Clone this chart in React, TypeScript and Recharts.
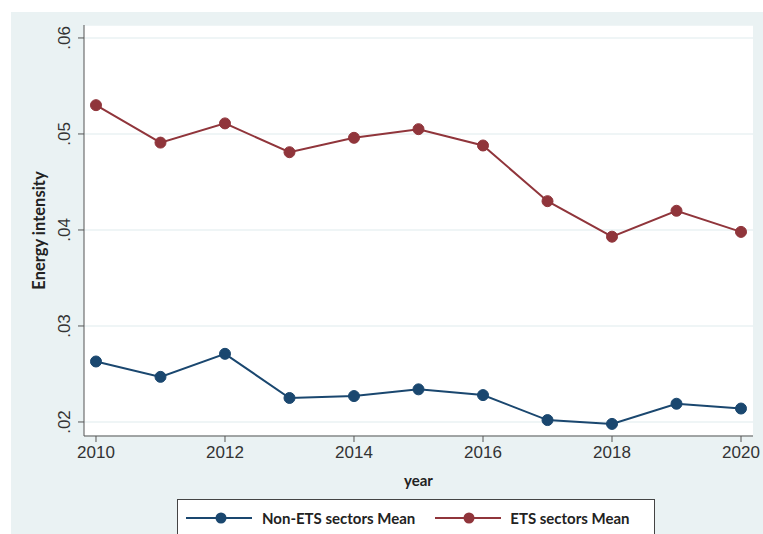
import { CartesianGrid, Line, LineChart, XAxis, YAxis } from 'recharts';

const years = [2010, 2011, 2012, 2013, 2014, 2015, 2016, 2017, 2018, 2019, 2020];
const nonEtsMean = [0.0263, 0.0247, 0.0271, 0.0225, 0.0227, 0.0234, 0.0228, 0.0202, 0.0198, 0.0219, 0.0214];
const etsMean = [0.053, 0.0491, 0.0511, 0.0481, 0.0496, 0.0505, 0.0488, 0.043, 0.0393, 0.042, 0.0398];
const yTicks = [0.02, 0.03, 0.04, 0.05, 0.06];
const xTicks = [2010, 2012, 2014, 2016, 2018, 2020];
const seriesNames = ['Non-ETS sectors Mean', 'ETS sectors Mean'];

const data = years.map((year, i) => ({ year, nonEts: nonEtsMean[i], ets: etsMean[i] }));

const NAVY = '#1a476f';
const MAROON = '#90353b';
const BG = '#eaf2f3';
const AXIS = '#555';

const fmtY = (v: number) => v.toFixed(2).replace(/^0/, '');

const YTick = (props: any) => {
  const { x, y, payload } = props;
  return (
    <text
      x={x - 6}
      y={y}
      transform={`rotate(-90, ${x - 6}, ${y})`}
      textAnchor="middle"
      fill="#333"
      fontSize={17}
      fontFamily="Liberation Sans, Arial, sans-serif"
    >
      {fmtY(payload.value)}
    </text>
  );
};

const LegendBox = () => (
  <div
    style={{
      position: 'absolute',
      left: 177,
      top: 499,
      width: 478,
      height: 40,
      border: '1px solid #444',
      background: '#fff',
      display: 'flex',
      alignItems: 'center',
      boxSizing: 'border-box',
      fontFamily: 'Lato, sans-serif',
      fontWeight: 700,
      fontSize: 15,
      color: '#222',
      paddingBottom: 2,
    }}
  >
    <svg width={66} height={14} style={{ marginLeft: 8 }}>
      <line x1={0} y1={7} x2={66} y2={7} stroke={NAVY} strokeWidth={2} />
      <circle cx={35} cy={7} r={5.5} fill={NAVY} />
    </svg>
    <span style={{ marginLeft: 10 }}>{seriesNames[0]}</span>
    <svg width={66} height={14} style={{ marginLeft: 20 }}>
      <line x1={0} y1={7} x2={66} y2={7} stroke={MAROON} strokeWidth={2} />
      <circle cx={34} cy={7} r={5.5} fill={MAROON} />
    </svg>
    <span style={{ marginLeft: 9 }}>{seriesNames[1]}</span>
  </div>
);

export default function App() {
  return (
    <div style={{ position: 'absolute', left: 0, top: 0, width: 763, height: 534, background: '#fff', overflow: 'hidden' }}>
      <div style={{ position: 'absolute', left: 11, top: 12, width: 752, height: 522, background: BG }} />
      <LineChart
        width={763}
        height={534}
        data={data}
        margin={{ top: 25, right: 10, left: 0, bottom: 0 }}
        style={{ position: 'absolute', left: 0, top: 0 }}
      >
        <CartesianGrid vertical={false} fill="#fff" stroke={BG} strokeWidth={1.5} />
        <XAxis
          dataKey="year"
          type="number"
          domain={[2009.814, 2020.186]}
          ticks={xTicks}
          allowDataOverflow
          stroke={AXIS}
          tickSize={6}
          tick={{ fill: '#333', fontSize: 17, fontFamily: 'Liberation Sans, Arial, sans-serif' }}
          tickMargin={4}
          height={98}
          label={{
            value: 'year',
            position: 'insideTop',
            offset: 39,
            fill: '#222',
            fontSize: 15,
            fontWeight: 700,
            fontFamily: 'Lato, sans-serif',
          }}
        />
        <YAxis
          type="number"
          domain={[0.01854, 0.06135]}
          ticks={yTicks}
          allowDataOverflow
          stroke={AXIS}
          tickSize={6}
          tick={<YTick />}
          width={84}
          label={{
            value: 'Energy intensity',
            angle: -90,
            position: 'insideLeft',
            offset: 39,
            style: { textAnchor: 'middle' },
            fill: '#222',
            fontSize: 16.5,
            fontWeight: 700,
            fontFamily: 'Lato, sans-serif',
          }}
        />
        <Line
          name={seriesNames[0]}
          dataKey="nonEts"
          stroke={NAVY}
          strokeWidth={2}
          dot={{ r: 5.5, fill: NAVY, stroke: NAVY, strokeWidth: 1 }}
          isAnimationActive={false}
        />
        <Line
          name={seriesNames[1]}
          dataKey="ets"
          stroke={MAROON}
          strokeWidth={2}
          dot={{ r: 5.5, fill: MAROON, stroke: MAROON, strokeWidth: 1 }}
          isAnimationActive={false}
        />
      </LineChart>
      <LegendBox />
    </div>
  );
}
